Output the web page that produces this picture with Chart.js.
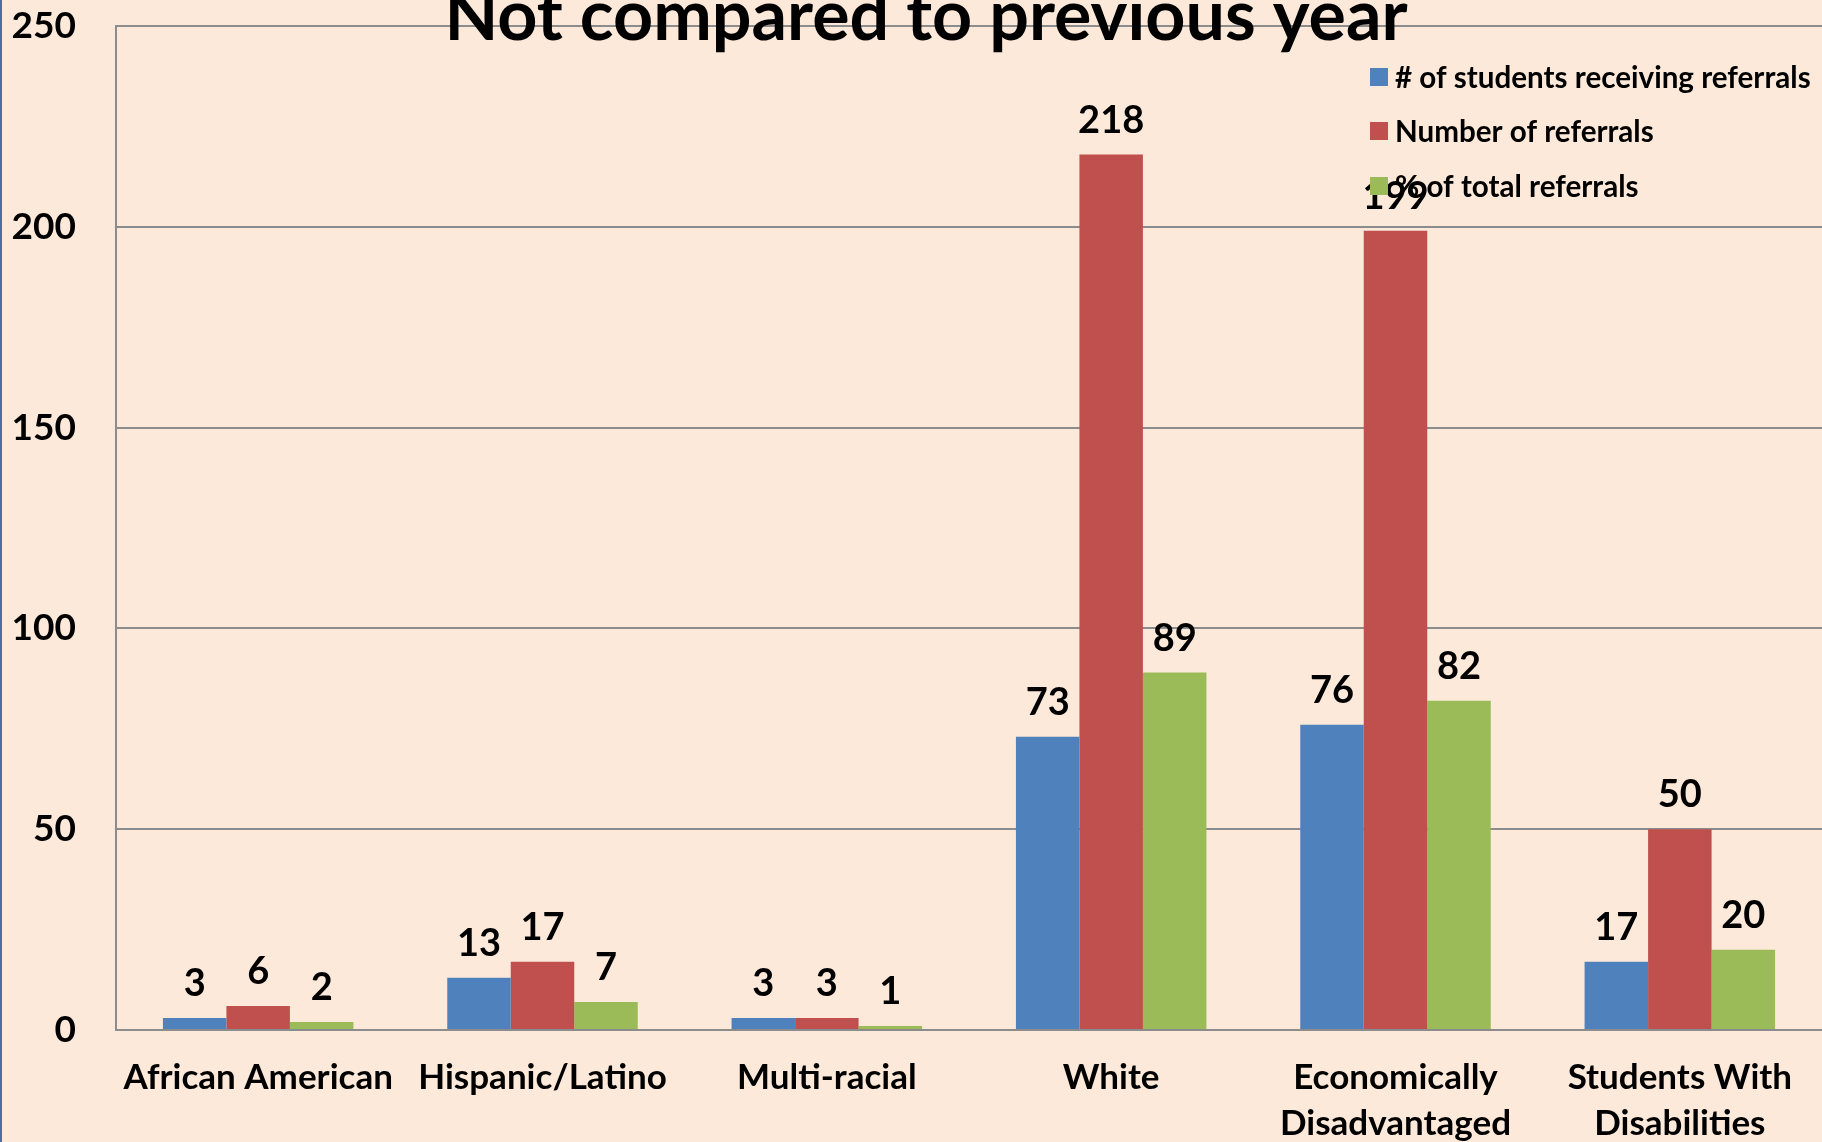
<!DOCTYPE html>
<html>
<head>
<meta charset="utf-8">
<script src="https://cdn.jsdelivr.net/npm/chart.js@4/dist/chart.umd.min.js"></script>
<style>
  html, body { margin: 0; padding: 0; background: #FDE9DA; overflow: hidden; }
  canvas { display: block; }
</style>
</head>
<body>
<canvas id="c" width="1822" height="1142"></canvas>
<script>
const categories = [
  'African American',
  'Hispanic/Latino',
  'Multi-racial',
  'White',
  ['Economically', 'Disadvantaged'],
  ['Students With', 'Disabilities']
];
const seriesNames = [
  '# of students receiving referrals',
  'Number of referrals',
  '% of total referrals'
];
const studentsReceiving = [3, 13, 3, 73, 76, 17];
const numberOfReferrals = [6, 17, 3, 218, 199, 50];
const pctOfTotal = [2, 7, 1, 89, 82, 20];
const yTicks = [0, 50, 100, 150, 200, 250];
const titleText = 'Not compared to previous year';

const FONT = 'Lato, "Open Sans", sans-serif';
const colors = ['#4F81BD', '#C0504D', '#9BBB59'];

const bgPlugin = {
  id: 'bg',
  beforeDraw(chart) {
    const ctx = chart.ctx;
    ctx.save();
    ctx.fillStyle = '#FDE9DA';
    ctx.fillRect(0, 0, chart.width, chart.height);
    ctx.fillStyle = '#4A6FA5';
    ctx.fillRect(0, 0, 2, chart.height);
    ctx.restore();
  }
};

const valueLabels = {
  id: 'valueLabels',
  afterDatasetsDraw(chart) {
    const ctx = chart.ctx;
    ctx.save();
    ctx.font = 'bold 38px ' + FONT;
    ctx.fillStyle = '#000';
    ctx.textAlign = 'center';
    ctx.textBaseline = 'alphabetic';
    chart.data.datasets.forEach((ds, i) => {
      const meta = chart.getDatasetMeta(i);
      meta.data.forEach((el, j) => {
        ctx.fillText(String(ds.data[j]), el.x, el.y - 22);
      });
    });
    ctx.restore();
  }
};

const overlay = {
  id: 'overlay',
  afterDraw(chart) {
    const ctx = chart.ctx;
    ctx.save();
    // title
    ctx.font = 'bold 70px ' + FONT;
    ctx.fillStyle = '#000';
    ctx.textAlign = 'center';
    ctx.textBaseline = 'alphabetic';
    ctx.fillText(titleText, 926, 40);
    // legend
    ctx.font = 'bold 29.6px ' + FONT;
    ctx.textAlign = 'left';
    ctx.textBaseline = 'middle';
    const rows = [77, 131, 186];
    chart.data.datasets.forEach((ds, i) => {
      ctx.fillStyle = ds.backgroundColor;
      ctx.fillRect(1370, rows[i] - 9, 18, 18);
      ctx.fillStyle = '#000';
      ctx.fillText(ds.label, 1395, rows[i] + 1);
    });
    ctx.restore();
  }
};

new Chart(document.getElementById('c'), {
  type: 'bar',
  data: {
    labels: categories,
    datasets: [
      { label: seriesNames[0], data: studentsReceiving, backgroundColor: colors[0] },
      { label: seriesNames[1], data: numberOfReferrals, backgroundColor: colors[1] },
      { label: seriesNames[2], data: pctOfTotal, backgroundColor: colors[2] }
    ]
  },
  options: {
    responsive: false,
    animation: false,
    devicePixelRatio: 1,
    layout: { padding: { top: 26, right: 0, left: 0, bottom: 0 } },
    datasets: { bar: { barPercentage: 1.0, categoryPercentage: 0.67 } },
    plugins: {
      legend: { display: false },
      title: { display: false },
      tooltip: { enabled: false }
    },
    scales: {
      x: {
        offset: true,
        grid: { display: false, drawTicks: false },
        border: { display: true, color: '#8C8C8C', width: 2 },
        ticks: {
          color: '#000',
          font: { family: FONT, size: 35, weight: 'bold', lineHeight: 1.31 },
          padding: 25,
          maxRotation: 0,
          autoSkip: false
        },
        afterFit(scale) { scale.height = 112; scale.paddingLeft = 0; scale.paddingRight = 0; }
      },
      y: {
        min: 0,
        max: 250,
        afterBuildTicks(scale) { scale.ticks = yTicks.map(v => ({ value: v })); },
        grid: { color: '#8C8C8C', lineWidth: 2, drawTicks: false },
        border: { display: true, color: '#8C8C8C', width: 2 },
        ticks: {
          color: '#000',
          font: { family: FONT, size: 37, weight: 'bold' },
          padding: 40
        },
        afterFit(scale) { scale.width = 116; scale.paddingTop = 0; scale.paddingBottom = 0; }
      }
    }
  },
  plugins: [bgPlugin, valueLabels, overlay]
});
</script>
</body>
</html>
